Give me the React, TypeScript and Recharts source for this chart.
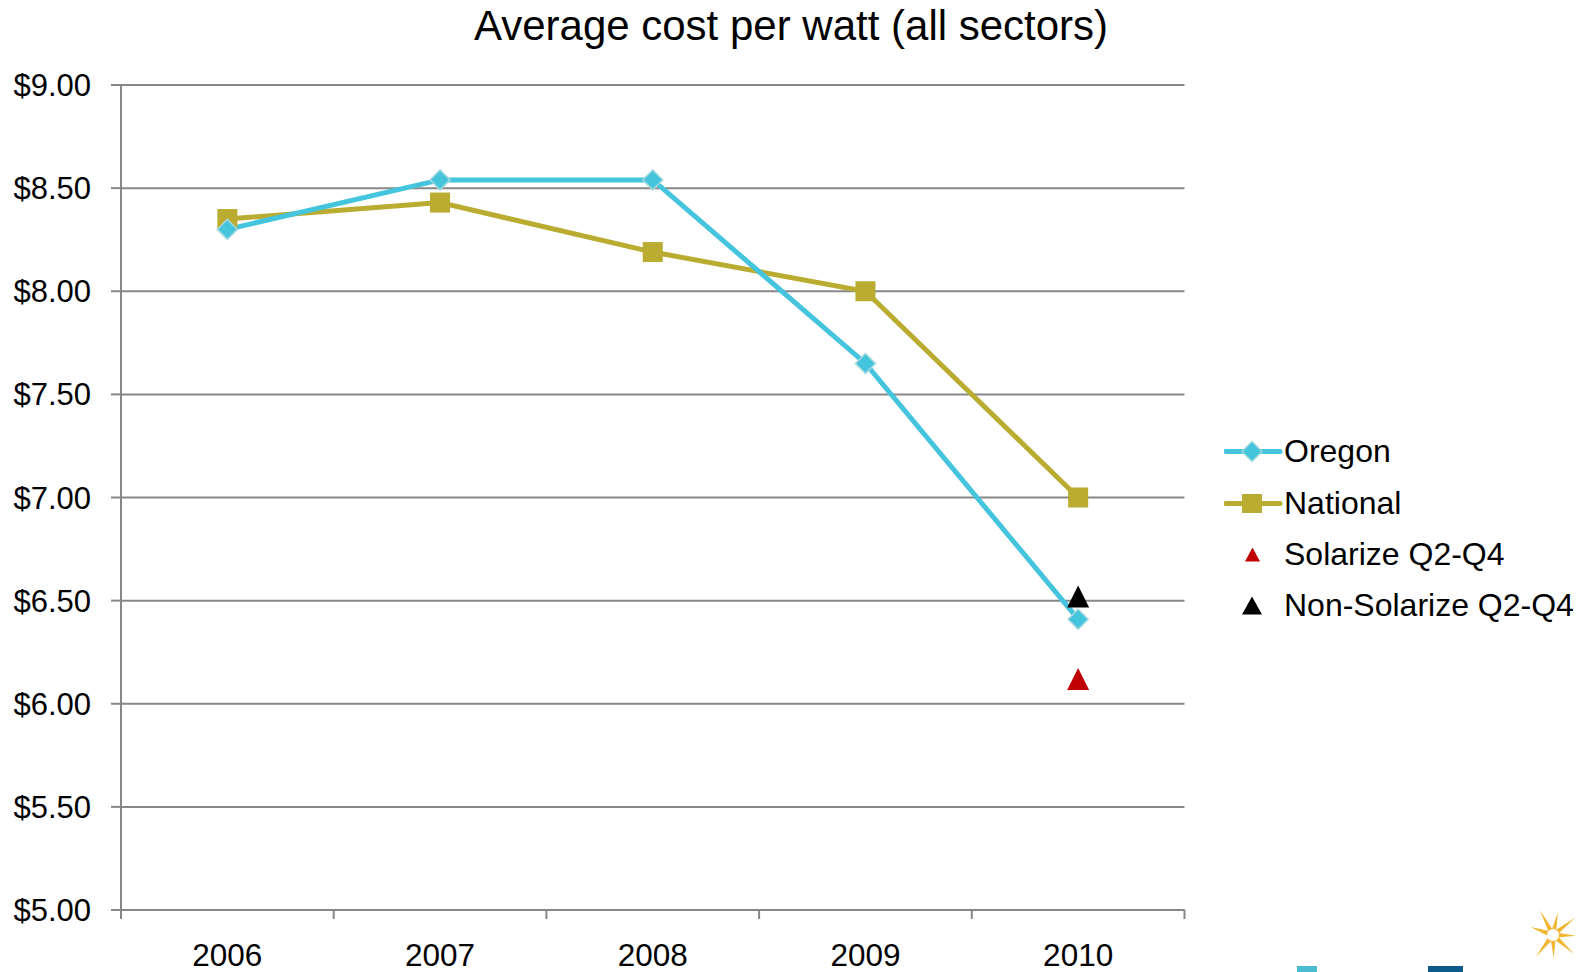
import React from 'react'
import {
  LineChart,
  Line,
  XAxis,
  YAxis,
  CartesianGrid,
  Legend,
} from 'recharts'

const years = ['2006', '2007', '2008', '2009', '2010']
const oregon = [8.3, 8.54, 8.54, 7.65, 6.41]
const national = [8.35, 8.43, 8.19, 8.0, 7.0]
const solarize = [null, null, null, null, 6.12]
const nonSolarize = [null, null, null, null, 6.52]
const yTicks = [5, 5.5, 6, 6.5, 7, 7.5, 8, 8.5, 9]

const FONT = '"Liberation Sans", Arial, sans-serif'
const GRID = '#878787'
const CYAN = '#45C4DD'
const OLIVE = '#B9AC30'
const RED = '#C00000'

// numeric x so the axis ticks can sit on the category boundaries
const data = years.map((year, i) => ({
  x: i + 0.5,
  year,
  oregon: oregon[i],
  national: national[i],
  solarize: solarize[i],
  nonSolarize: nonSolarize[i],
}))
const boundaryTicks = years.map((_, i) => i).concat(years.length)
const centerTicks = years.map((_, i) => i + 0.5)

const Diamond = (props: any) => {
  const { cx, cy } = props
  if (cx == null || cy == null) return <g />
  return (
    <polygon
      points={`${cx},${cy - 10} ${cx + 10},${cy} ${cx},${cy + 10} ${cx - 10},${cy}`}
      fill={CYAN}
      stroke="#A2D8DE"
      strokeWidth={1.5}
    />
  )
}

const Square = (props: any) => {
  const { cx, cy } = props
  if (cx == null || cy == null) return <g />
  return <rect x={cx - 10} y={cy - 10} width={20} height={20} fill={OLIVE} />
}

const triangle = (color: string) => (props: any) => {
  const { cx, cy } = props
  if (cx == null || cy == null) return <g />
  return (
    <polygon
      points={`${cx},${cy - 11} ${cx + 11},${cy + 11} ${cx - 11},${cy + 11}`}
      fill={color}
    />
  )
}

const legendItems = [
  { name: 'Oregon', kind: 'diamond' },
  { name: 'National', kind: 'square' },
  { name: 'Solarize Q2-Q4', kind: 'red' },
  { name: 'Non-Solarize Q2-Q4', kind: 'black' },
]

function LegendIcon({ kind }: { kind: string }) {
  return (
    <svg width={60} height={51} style={{ display: 'block' }}>
      {kind === 'diamond' && (
        <>
          <line x1={2} y1={25.5} x2={56} y2={25.5} stroke={CYAN} strokeWidth={5} strokeLinecap="round" />
          <polygon points="28,15.5 38,25.5 28,35.5 18,25.5" fill={CYAN} stroke="#A2D8DE" strokeWidth={1.5} />
        </>
      )}
      {kind === 'square' && (
        <>
          <line x1={2} y1={25.5} x2={56} y2={25.5} stroke={OLIVE} strokeWidth={5} strokeLinecap="round" />
          <rect x={18} y={16} width={20} height={19} fill={OLIVE} />
        </>
      )}
      {kind === 'red' && <polygon points="28.5,18.5 36,32.5 21,32.5" fill={RED} />}
      {kind === 'black' && <polygon points="28,16.5 38,34.5 18,34.5" fill="#000" />}
    </svg>
  )
}

const renderLegend = () => (
  <div style={{ fontFamily: FONT, fontSize: 32, color: '#000' }}>
    {legendItems.map((item) => (
      <div key={item.name} style={{ display: 'flex', alignItems: 'center', height: 51.2, lineHeight: '51.2px' }}>
        <LegendIcon kind={item.kind} />
        <span style={{ whiteSpace: 'nowrap' }}>{item.name}</span>
      </div>
    ))}
  </div>
)

// partial company logo in the bottom right corner
function Logo() {
  const rays = [-160, -118, -78, -38, 2, 42, 88, 128, 200]
  return (
    <svg width={1592} height={972} style={{ position: 'absolute', left: 0, top: 0, pointerEvents: 'none' }}>
      <g transform="translate(1553,935)">
        {rays.map((a, i) => {
          const r0 = 5
          const r1 = i % 2 ? 28 : 23
          const rad = (a * Math.PI) / 180
          const w = 0.5
          return (
            <polygon
              key={a}
              points={`${Math.cos(rad - w) * r0},${Math.sin(rad - w) * r0} ${Math.cos(rad) * r1},${Math.sin(rad) * r1} ${Math.cos(rad + w) * r0},${Math.sin(rad + w) * r0}`}
              fill="#F2B632"
            />
          )
        })}
        <circle r={6} fill="#fff" />
      </g>
      <rect x={1297} y={966} width={20} height={6} fill="#4BBBD0" />
      <rect x={1428} y={966} width={35} height={6} fill="#0B5A8A" />
    </svg>
  )
}

export default function App() {
  return (
    <div style={{ position: 'absolute', left: 0, top: 0, width: 1592, height: 972, background: '#fff' }}>
      <div
        style={{
          position: 'absolute',
          left: 0,
          top: 1,
          width: 1582,
          textAlign: 'center',
          fontFamily: FONT,
          fontSize: 42,
          lineHeight: '50px',
          color: '#000',
        }}
      >
        Average cost per watt (all sectors)
      </div>
      <LineChart
        width={1592}
        height={972}
        data={data}
        margin={{ top: 85, right: 407.5, bottom: 0, left: 0 }}
        style={{ fontFamily: FONT }}
      >
        <CartesianGrid vertical={false} stroke={GRID} strokeWidth={2} xAxisId="grid" />
        <XAxis
          xAxisId="grid"
          type="number"
          dataKey="x"
          domain={[0, 5]}
          ticks={boundaryTicks}
          interval={0}
          height={9}
          tickSize={9}
          tickFormatter={() => ''}
          axisLine={{ stroke: GRID, strokeWidth: 2 }}
          tickLine={{ stroke: GRID, strokeWidth: 2 }}
        />
        <XAxis
          xAxisId="labels"
          type="number"
          dataKey="x"
          domain={[0, 5]}
          ticks={centerTicks}
          interval={0}
          height={53}
          tickSize={0}
          tickMargin={25}
          axisLine={false}
          tickLine={false}
          tickFormatter={(v: number) => years[Math.floor(v)]}
          tick={{ fill: '#000', fontSize: 31.5 }}
        />
        <YAxis
          domain={[5, 9]}
          ticks={yTicks}
          interval={0}
          width={121}
          tickSize={10}
          tickMargin={20}
          axisLine={{ stroke: GRID, strokeWidth: 2 }}
          tickLine={{ stroke: GRID, strokeWidth: 2 }}
          tick={{ fill: '#000', fontSize: 31 }}
          tickFormatter={(v: number) => `$${v.toFixed(2)}`}
        />
        <Legend
          layout="vertical"
          align="center"
          verticalAlign="middle"
          content={renderLegend}
          wrapperStyle={{ left: 1224, top: 426.4, width: 360 }}
        />
        <Line
          xAxisId="grid"
          type="linear"
          dataKey="national"
          name="National"
          stroke={OLIVE}
          strokeWidth={5}
          dot={Square}
          activeDot={false}
          isAnimationActive={false}
        />
        <Line
          xAxisId="grid"
          type="linear"
          dataKey="oregon"
          name="Oregon"
          stroke={CYAN}
          strokeWidth={5}
          dot={Diamond}
          activeDot={false}
          isAnimationActive={false}
        />
        <Line
          xAxisId="grid"
          dataKey="solarize"
          name="Solarize Q2-Q4"
          stroke="none"
          dot={triangle(RED)}
          activeDot={false}
          isAnimationActive={false}
        />
        <Line
          xAxisId="grid"
          dataKey="nonSolarize"
          name="Non-Solarize Q2-Q4"
          stroke="none"
          dot={triangle('#000')}
          activeDot={false}
          isAnimationActive={false}
        />
      </LineChart>
      <Logo />
    </div>
  )
}
